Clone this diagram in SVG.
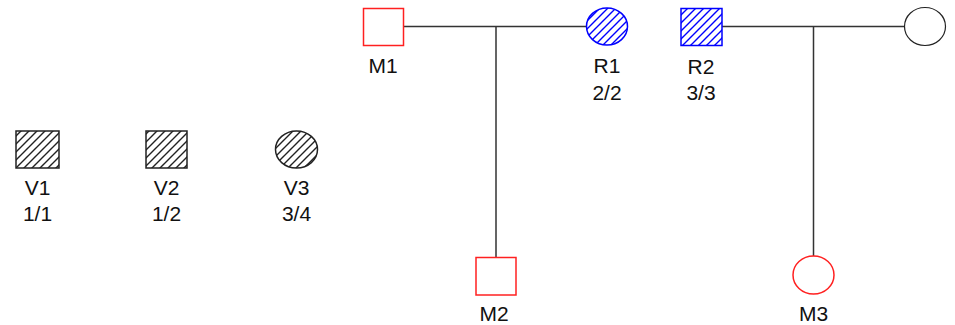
<svg xmlns="http://www.w3.org/2000/svg" width="955" height="325" viewBox="0 0 955 325">
  <defs>
    <pattern id="hatch-black" patternUnits="userSpaceOnUse" width="8" height="8">
      <path d="M-2,2 L2,-2 M0,8 L8,0 M6,10 L10,6" stroke="#222" stroke-width="1.4"/>
    </pattern>
    <pattern id="hatch-blue" patternUnits="userSpaceOnUse" width="8" height="8">
      <path d="M-2,2 L2,-2 M0,8 L8,0 M6,10 L10,6" stroke="#0000ff" stroke-width="1.4"/>
    </pattern>
  </defs>
  <style>
    .bg { fill: #ffffff; }
    .red { fill: #ffffff; stroke: #ff2020; stroke-width: 1.5; }
    .blue { fill: url(#hatch-blue); stroke: #0000ff; stroke-width: 1.5; }
    .black { fill: url(#hatch-black); stroke: #222; stroke-width: 1.5; }
    .plain { fill: #ffffff; stroke: #222; stroke-width: 1.2; }
    .link { stroke: #333; stroke-width: 1.5; fill: none; }
    text { font-family: "Liberation Sans", Arial, sans-serif; font-size: 21px; fill: #111; text-anchor: middle; }
  </style>
  <rect class="bg" x="0" y="0" width="955" height="325"/>

  <g id="connectors">
    <path class="link" d="M403,26.5 H587 M496,26.5 V257"/>
    <path class="link" d="M722,26.5 H904 M813.5,26.5 V256"/>
  </g>

  <g id="M1">
    <rect class="red" x="363.5" y="8.5" width="40" height="37"/>
    <text x="383" y="73">M1</text>
  </g>
  <g id="R1">
    <ellipse class="blue" cx="607" cy="26.5" rx="20.5" ry="18.5"/>
    <text x="607" y="73">R1</text>
    <text x="607" y="100">2/2</text>
  </g>
  <g id="R2">
    <rect class="blue" x="681" y="8.5" width="41" height="37"/>
    <text x="701" y="74">R2</text>
    <text x="701" y="100">3/3</text>
  </g>
  <g id="F1">
    <ellipse class="plain" cx="925" cy="26.5" rx="20.5" ry="19"/>
  </g>
  <g id="V1">
    <rect class="black" x="16" y="131" width="43" height="37"/>
    <text x="37.5" y="195">V1</text>
    <text x="37.5" y="221">1/1</text>
  </g>
  <g id="V2">
    <rect class="black" x="146" y="131" width="41" height="37"/>
    <text x="166.5" y="195">V2</text>
    <text x="166.5" y="221">1/2</text>
  </g>
  <g id="V3">
    <ellipse class="black" cx="296.5" cy="149.5" rx="21" ry="18.5"/>
    <text x="296.5" y="195">V3</text>
    <text x="296.5" y="221">3/4</text>
  </g>
  <g id="M2">
    <rect class="red" x="476" y="257.5" width="40" height="37.5"/>
    <text x="494" y="321">M2</text>
  </g>
  <g id="M3">
    <ellipse class="red" cx="813.5" cy="275" rx="20.5" ry="19"/>
    <text x="813.5" y="321">M3</text>
  </g>
</svg>
